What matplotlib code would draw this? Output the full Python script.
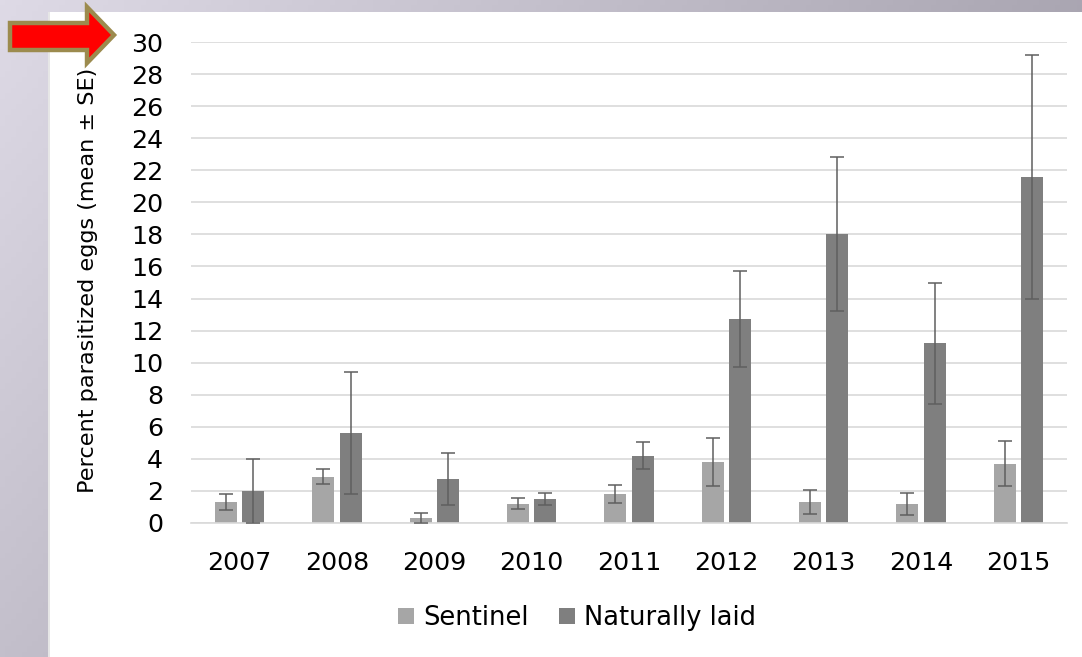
import numpy as np
import matplotlib
matplotlib.use("Agg")
import matplotlib.pyplot as plt
from matplotlib.patches import Polygon, Rectangle

years = ["2007", "2008", "2009", "2010", "2011", "2012", "2013", "2014", "2015"]
sentinel = [1.3, 2.9, 0.3, 1.2, 1.8, 3.8, 1.3, 1.2, 3.7]
sentinel_se = [0.5, 0.45, 0.3, 0.35, 0.55, 1.5, 0.75, 0.7, 1.4]
natural = [2.0, 5.6, 2.75, 1.5, 4.2, 12.7, 18.0, 11.2, 21.6]
natural_se = [2.0, 3.8, 1.6, 0.4, 0.85, 3.0, 4.8, 3.75, 7.6]

W, H = 1082, 657
fig = plt.figure(figsize=(W / 100, H / 100), dpi=100)

# slide background: lavender gradient
bg = fig.add_axes([0, 0, 1, 1], zorder=-10)
xx, yy = np.meshgrid(np.linspace(0, 1, 200), np.linspace(0, 1, 120))
base = np.array([222, 218, 230]) / 255.0
img = base[None, None, :] - (52 / 255.0) * xx[..., None] - (27 / 255.0) * yy[..., None]
bg.imshow(np.clip(img, 0, 1), extent=[0, 1, 0, 1], aspect="auto", origin="upper")
bg.add_patch(Rectangle((48 / W, 0), 3 / W, 1 - 12 / H, color="#e6e6e6", lw=0))
bg.add_patch(Rectangle((50 / W, 0), 1, 1 - 12 / H, color="white", lw=0))
bg.set_xlim(0, 1)
bg.set_ylim(0, 1)
bg.axis("off")

ax = fig.add_axes([191 / W, (H - 523) / H, 876 / W, 481 / H])
ax.set_facecolor("none")

x = np.arange(len(years))
w = 0.225
ax.bar(x - 0.14, sentinel, w, color="#a6a6a6", label="Sentinel", zorder=2)
ax.bar(x + 0.14, natural, w, color="#7f7f7f", label="Naturally laid", zorder=2)
ax.errorbar(x - 0.14, sentinel, yerr=sentinel_se, fmt="none", ecolor="#5f5f5f",
            elinewidth=1.1, capsize=4.7, capthick=1.1, zorder=3)
ax.errorbar(x + 0.14, natural, yerr=natural_se, fmt="none", ecolor="#5f5f5f",
            elinewidth=1.1, capsize=4.7, capthick=1.1, zorder=3)

ax.set_xlim(-0.5, len(years) - 0.5)
ax.set_ylim(0, 30)
ax.set_yticks(range(0, 31, 2))
ax.set_xticks(x)
ax.set_xticklabels(years)
ax.grid(axis="y", color="#d9d9d9", lw=1.2, zorder=0)
ax.set_axisbelow(True)
for s in ["left", "right", "top"]:
    ax.spines[s].set_visible(False)
ax.spines["bottom"].set_color("#d9d9d9")
ax.spines["bottom"].set_linewidth(1.2)
ax.tick_params(axis="y", length=0, pad=20, labelsize=18.2, labelcolor="black")
ax.tick_params(axis="x", length=0, pad=20, labelsize=18.2, labelcolor="black")
ax.set_ylabel("Percent parasitized eggs (mean ± SE)", fontsize=16.1)
ax.yaxis.set_label_coords(-0.106, 0.505)

fig.legend(loc="center", bbox_to_anchor=(577 / W, (H - 618) / H), ncol=2,
           frameon=False, fontsize=18.5, handlelength=0.62, handleheight=0.62,
           handletextpad=0.35, columnspacing=1.2)

# red arrow pointing at the top tick
pts = [(10, 23), (87, 23), (87, 7), (114, 35), (87, 63), (87, 50), (10, 50)]
arrow = Polygon([(px / W, 1 - py / H) for px, py in pts], closed=True,
                transform=fig.transFigure, facecolor="#ff0000",
                edgecolor="#9c8b4e", lw=3.2, joinstyle="miter", zorder=20)
fig.patches.append(arrow)

fig.savefig("out.png", dpi=100)
